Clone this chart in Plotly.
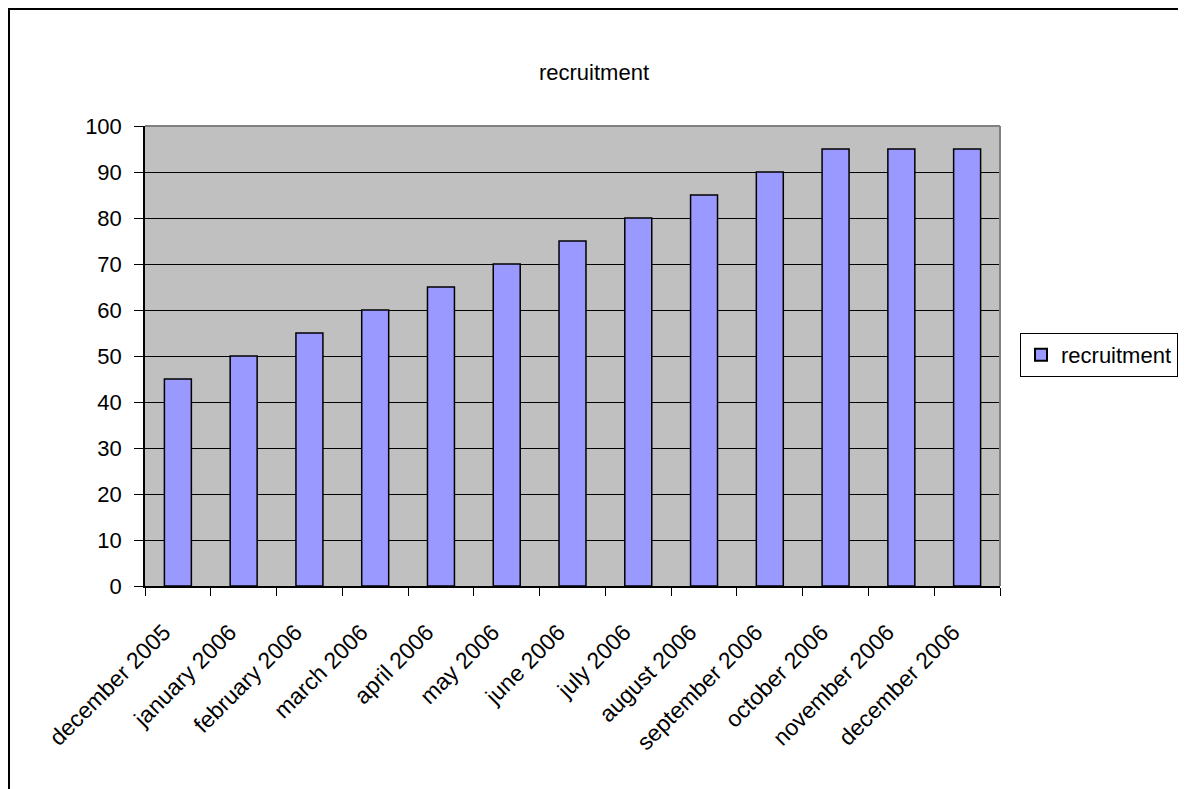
import plotly.graph_objects as go

months = ["december 2005", "january 2006", "february 2006", "march 2006", "april 2006",
          "may 2006", "june 2006", "july 2006", "august 2006", "september 2006",
          "october 2006", "november 2006", "december 2006"]
recruitment = [45, 50, 55, 60, 65, 70, 75, 80, 85, 90, 95, 95, 95]
y_ticks = [0, 10, 20, 30, 40, 50, 60, 70, 80, 90, 100]

# page has an 8px body margin; figure coordinates are page coordinates minus 8
OFF = 8
W, H = 1186 - OFF, 789 - OFF
L, R, T, B = 145 - OFF, 1000 - OFF, 126 - OFF, 586 - OFF
pw, ph = R - L, B - T

fig = go.Figure()
fig.add_trace(go.Bar(
    x=months, y=recruitment, name="recruitment",
    marker=dict(color="#9999FF", line=dict(color="black", width=1.5)),
    width=0.41, showlegend=True,
))

def px_x(p):
    return (p - OFF - L) / pw

def px_y(p):
    return (B - (p - OFF)) / ph

FONT = "Liberation Sans, Arial, sans-serif"
fig.update_layout(
    width=W, height=H, autosize=False,
    margin=dict(l=L, r=W - R, t=T, b=H - B, pad=0, autoexpand=False),
    paper_bgcolor="white", plot_bgcolor="#C0C0C0",
    font=dict(family=FONT, size=22, color="black"),
    title=dict(text="recruitment", x=(594 - OFF) / W, xanchor="center",
               y=(H - (72 - OFF)) / H, yanchor="middle",
               font=dict(size=22, color="black")),
    showlegend=True,
    legend=dict(x=px_x(1020), y=px_y(355), xanchor="left", yanchor="middle",
                bordercolor="black", borderwidth=1, bgcolor="white",
                font=dict(size=22), itemsizing="constant", itemwidth=30),
    xaxis=dict(type="category", showline=True, linecolor="black", linewidth=1.5,
               ticks="outside", ticklen=8, tickcolor="black", tickson="boundaries",
               tickangle=-45, showgrid=False, tickfont=dict(size=23), automargin=False,
               ticklabelstandoff=22, ticklabelshift=-14),
    yaxis=dict(range=[0, 100], tickvals=y_ticks, showline=True, linecolor="black", linewidth=1.5,
               ticks="outside", ticklen=9, tickcolor="black", automargin=False,
               showgrid=True, gridcolor="black", gridwidth=1, zeroline=False,
               tickfont=dict(size=22), ticklabelstandoff=8),
)

# plot-area top/right border (gray)
fig.add_shape(type="line", xref="paper", yref="paper", x0=0, x1=1, y0=1, y1=1,
              line=dict(color="#808080", width=2), layer="above")
fig.add_shape(type="line", xref="paper", yref="paper", x0=1, x1=1, y0=0, y1=1,
              line=dict(color="#808080", width=2), layer="above")
# outer chart border (left and top edges visible; right/bottom lie beyond the page)
fig.add_shape(type="rect", xref="paper", yref="paper",
              x0=(1 - L) / pw, x1=(1200 - L) / pw, y0=(B - 800) / ph, y1=(B - 1) / ph,
              line=dict(color="black", width=2), fillcolor="rgba(0,0,0,0)", layer="below")

fig.write_html("out.html")
